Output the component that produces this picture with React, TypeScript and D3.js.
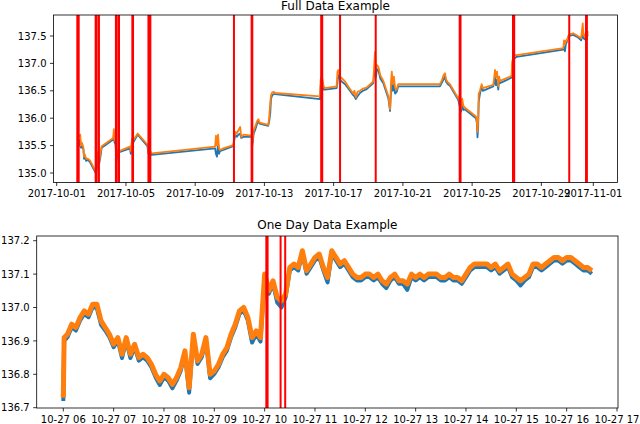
import React from "react";
import * as d3 from "d3";

// ---------- Full data (days since 2017-10-01 00:00 UTC) ----------
const fullDays = [
  1.29, 1.32, 1.36, 1.40, 1.46, 1.54, 1.58, 1.62, 1.70, 1.80, 1.92, 2.27, 2.30, 2.34, 2.38, 2.42, 2.46, 2.52, 2.60,
  3.27, 3.30, 3.34, 3.40, 3.45, 3.50, 3.56, 3.62, 4.23, 4.28, 4.35, 4.43, 4.68, 5.24, 5.30, 5.34, 5.40, 5.49,
  9.15, 9.20, 9.26, 9.32, 9.38, 9.43, 9.63, 10.20, 10.26, 10.32, 10.40, 10.50, 10.60, 10.66, 10.80,
  11.27, 11.30, 11.38, 11.46, 11.58, 11.65, 11.72, 12.22, 12.28, 12.34, 12.38, 12.45, 12.55, 12.61,
  15.21, 15.25, 15.30, 15.36, 15.42, 15.50, 16.17, 16.22, 16.27, 16.37, 16.50, 16.66, 16.90, 17.13, 17.20, 17.28,
  17.38, 17.52, 17.70, 17.91, 18.29, 18.33, 18.39, 18.44, 18.50, 18.58, 18.70, 18.87, 19.16, 19.26, 19.32, 19.36,
  19.42, 19.48, 19.55, 19.64, 19.73, 22.14, 22.24, 22.34, 22.43, 22.50, 22.60, 22.72, 23.20, 23.26, 23.30, 23.36,
  23.42, 23.50, 23.59, 24.22, 24.27, 24.31, 24.35, 24.38, 24.45, 24.55, 24.62, 25.22, 25.28, 25.32, 25.38, 25.44,
  25.51, 25.56, 25.61, 26.28, 26.31, 26.36, 26.42, 26.48, 26.57, 29.27, 29.31, 29.36, 29.42, 29.46, 29.56, 29.61,
  29.84, 30.10, 30.30, 30.35, 30.39, 30.43, 30.50, 30.58, 30.62, 30.67, 30.71,
];
const fullBid = [
  135.62, 135.50, 135.60, 135.46, 135.48, 135.44, 135.26, 135.30, 135.22, 135.24, 135.20, 134.99, 135.05, 135.22, 135.10, 135.20, 135.18, 135.28, 135.46,
  135.61, 135.70, 135.56, 135.52, 135.22, 135.36, 135.30, 135.38, 135.45, 135.35, 135.55, 135.56, 135.70, 135.49, 135.35, 135.45, 135.34, 135.33,
  135.45, 135.35, 135.30, 135.55, 135.35, 135.40, 135.42, 135.49, 135.60, 135.70, 135.66, 135.70, 135.72, 135.64, 135.66,
  135.66, 135.50, 135.72, 135.78, 135.90, 135.95, 135.90, 135.86, 135.95, 136.10, 136.35, 136.42, 136.44, 136.44,
  136.35, 136.60, 136.55, 136.65, 136.52, 136.52, 136.55, 136.65, 136.80, 136.70, 136.66, 136.62, 136.52, 136.42, 136.40, 136.35,
  136.40, 136.46, 136.50, 136.53, 136.64, 136.80, 136.85, 136.75, 136.90, 136.88, 136.72, 136.64, 136.36, 136.13, 136.55, 136.70,
  136.50, 136.65, 136.45, 136.48, 136.58, 136.58, 136.64, 136.70, 136.76, 136.66, 136.62, 136.59, 136.33, 136.25, 136.19, 136.12,
  136.24, 136.15, 136.16, 136.00, 135.92, 135.65, 135.85, 136.30, 136.44, 136.58, 136.50, 136.58, 136.65, 136.80, 136.60, 136.70,
  136.52, 136.70, 136.64, 136.74, 136.90, 137.02, 137.08, 137.10, 137.12, 137.25, 137.30, 137.22, 137.36, 137.38, 137.48, 137.50,
  137.52, 137.48, 137.42, 137.50, 137.55, 137.46, 137.44, 137.50, 137.44, 137.52, 137.53,
];
const fullAsk = [
  135.70, 135.66, 135.70, 135.50, 135.55, 135.47, 135.30, 135.34, 135.26, 135.26, 135.23, 135.02, 135.10, 135.38, 135.25, 135.26, 135.21, 135.35, 135.49,
  135.64, 135.80, 135.60, 135.60, 135.26, 135.42, 135.35, 135.40, 135.48, 135.40, 135.62, 135.60, 135.72, 135.52, 135.40, 135.55, 135.40, 135.36,
  135.48, 135.68, 135.50, 135.70, 135.45, 135.42, 135.45, 135.51, 135.65, 135.75, 135.72, 135.78, 135.84, 135.66, 135.70,
  135.68, 135.55, 135.78, 135.84, 135.95, 135.98, 135.92, 135.88, 136.03, 136.30, 136.42, 136.47, 136.48, 136.46,
  136.40, 136.70, 136.75, 136.70, 136.58, 136.55, 136.58, 136.85, 136.88, 136.76, 136.72, 136.67, 136.55, 136.45, 136.50, 136.38,
  136.48, 136.50, 136.54, 136.56, 136.67, 136.90, 137.21, 136.92, 136.97, 136.94, 136.78, 136.68, 136.40, 136.16, 136.70, 136.85,
  136.62, 136.76, 136.55, 136.52, 136.62, 136.62, 136.68, 136.78, 136.82, 136.70, 136.65, 136.62, 136.36, 136.40, 136.22, 136.18,
  136.36, 136.22, 136.19, 136.03, 135.97, 135.75, 135.98, 136.45, 136.50, 136.62, 136.55, 136.61, 136.75, 136.88, 136.75, 136.85,
  136.58, 136.76, 136.68, 136.77, 137.03, 137.08, 137.12, 137.15, 137.15, 137.28, 137.42, 137.35, 137.42, 137.41, 137.51, 137.53,
  137.55, 137.50, 137.46, 137.62, 137.73, 137.52, 137.48, 137.58, 137.46, 137.58, 137.56,
];
const fullAnomalyDays = [
  1.19, 1.27, 2.25, 2.31, 2.44, 3.42, 3.47, 3.60, 4.37, 4.41, 5.30, 5.36, 5.41, 10.24, 11.26, 11.30,
  15.28, 15.34, 16.37, 18.43, 23.28, 23.33, 26.36, 26.43, 29.61, 30.58, 30.63,
];
const fullTickLabels = [
  "2017-10-01", "2017-10-05", "2017-10-09", "2017-10-13", "2017-10-17",
  "2017-10-21", "2017-10-25", "2017-10-29", "2017-11-01",
];
const fullYTicks = [135.0, 135.5, 136.0, 136.5, 137.0, 137.5];

// ---------- One day data (2017-10-27, 06:00 onward, 5-min grid after 06:01) ----------
const dayMinutes = [0, 1, ...d3.range(5, 631, 5)];
const dayAsk = [
  136.73, 136.91,
  136.92, 136.95, 136.94, 136.97, 136.99, 136.98, 137.01, 137.01, 136.96, 136.94, 136.92,
  136.89, 136.91, 136.86, 136.91, 136.86, 136.89, 136.85, 136.86, 136.85, 136.83, 136.80, 136.78,
  136.80, 136.79, 136.77, 136.79, 136.82, 136.87, 136.76, 136.92, 136.84, 136.86, 136.91, 136.80,
  136.81, 136.83, 136.86, 136.88, 136.92, 136.95, 136.99, 137.00, 136.97, 136.91, 136.93, 136.91,
  137.10, 137.05, 137.08, 137.03, 137.02, 137.04, 137.12, 137.13, 137.12, 137.17, 137.11, 137.13,
  137.15, 137.16, 137.12, 137.09, 137.17, 137.15, 137.13, 137.14, 137.12, 137.10, 137.09, 137.09,
  137.10, 137.10, 137.09, 137.10, 137.08, 137.07, 137.09, 137.10, 137.08, 137.08, 137.07, 137.10,
  137.09, 137.10, 137.09, 137.10, 137.10, 137.10, 137.09, 137.09, 137.10, 137.09, 137.09, 137.08,
  137.10, 137.12, 137.13, 137.13, 137.13, 137.13, 137.12, 137.13, 137.11, 137.12, 137.13, 137.10,
  137.09, 137.08, 137.09, 137.10, 137.13, 137.13, 137.12, 137.13, 137.14, 137.15, 137.15, 137.14,
  137.15, 137.15, 137.14, 137.13, 137.12, 137.12, 137.11,
];
const dayBid = [
  136.72, 136.90,
  136.911, 136.941, 136.931, 136.961, 136.981, 136.971, 137.001, 136.998, 136.948, 136.931, 136.911,
  136.881, 136.901, 136.849, 136.901, 136.849, 136.881, 136.841, 136.851, 136.841, 136.821, 136.791, 136.768,
  136.791, 136.781, 136.758, 136.781, 136.811, 136.861, 136.745, 136.911, 136.831, 136.851, 136.901, 136.788,
  136.801, 136.821, 136.851, 136.871, 136.911, 136.941, 136.981, 136.991, 136.961, 136.895, 136.921, 136.898,
  137.085, 137.041, 137.071, 137.015, 137.0, 137.031, 137.111, 137.121, 137.111, 137.161, 137.101, 137.121,
  137.141, 137.151, 137.111, 137.075, 137.161, 137.141, 137.121, 137.131, 137.111, 137.091, 137.081, 137.081,
  137.091, 137.091, 137.081, 137.091, 137.071, 137.058, 137.081, 137.091, 137.071, 137.071, 137.053, 137.091,
  137.081, 137.091, 137.081, 137.091, 137.091, 137.091, 137.081, 137.081, 137.091, 137.081, 137.081, 137.071,
  137.091, 137.111, 137.121, 137.121, 137.121, 137.121, 137.111, 137.121, 137.101, 137.111, 137.121, 137.091,
  137.081, 137.066, 137.081, 137.091, 137.121, 137.121, 137.111, 137.121, 137.131, 137.141, 137.141, 137.131,
  137.141, 137.141, 137.131, 137.121, 137.111, 137.111, 137.101,
];
const dayAnomalyMinutes = [242, 243.5, 259, 264.5];
const dayTickHours = [6, 7, 8, 9, 10, 11, 12, 13, 14, 15, 16, 17];
const dayYTicks = [136.7, 136.8, 136.9, 137.0, 137.1, 137.2];

const BLUE = "#1f77b4";
const ORANGE = "#ff7f0e";
const RED = "#ff0000";
const FONT = "DejaVu Sans, sans-serif";

const oct1 = Date.UTC(2017, 9, 1);
const dayMs = 86400000;
const dayStart = Date.UTC(2017, 9, 27, 6);

type Box = { left: number; right: number; top: number; bottom: number };

function Frame({ box, title, titleY }: { box: Box; title: string; titleY: number }) {
  return (
    <g>
      <rect x={box.left} y={box.top} width={box.right - box.left} height={box.bottom - box.top}
        fill="none" stroke="#000" strokeWidth={0.8} />
      <text x={(box.left + box.right) / 2} y={titleY} textAnchor="middle" fontSize={12} fontFamily={FONT} fill="#000">
        {title}
      </text>
    </g>
  );
}

export default function App() {
  // ----- top chart -----
  const topBox: Box = { left: 53.5, right: 617.5, top: 15, bottom: 182.5 };
  const xTop = d3.scaleUtc().domain([new Date(oct1), new Date(Date.UTC(2017, 10, 1))]).range([56.7, 593.3]);
  const yTop = d3.scaleLinear().domain([135, 137.5]).range([173, 36]);
  const fullDates = fullDays.map((d) => new Date(oct1 + d * dayMs));
  const lineTop = d3.line<number>().x((_, i) => xTop(fullDates[i])).y((v) => yTop(v));

  // ----- bottom chart -----
  const botBox: Box = { left: 36.7, right: 618, top: 236, bottom: 408 };
  const xBot = d3.scaleUtc().domain([new Date(dayStart), new Date(dayStart + 11 * 3600000)]).range([63.3, 617]);
  const yBot = d3.scaleLinear().domain([136.7, 137.2]).range([407.7, 240.7]);
  const dayDates = dayMinutes.map((m) => new Date(dayStart + m * 60000));
  const lineBot = d3.line<number>().x((_, i) => xBot(dayDates[i])).y((v) => yBot(v));

  const parseTop = d3.utcParse("%Y-%m-%d");
  const fmtBot = d3.utcFormat("%m-%d %H");

  return (
    <svg width={640} height={424} style={{ position: "absolute", left: 0, top: 0, background: "#fff" }}
      fontFamily={FONT}>
      <rect x={0} y={0} width={640} height={424} fill="#fff" />

      {/* ===== Top: Full Data Example ===== */}
      <path d={lineTop(fullBid) || ""} fill="none" stroke={BLUE} strokeWidth={1.8} strokeLinejoin="round" />
      <path d={lineTop(fullAsk) || ""} fill="none" stroke={ORANGE} strokeWidth={1.8} strokeLinejoin="round" />
      {fullAnomalyDays.map((d, i) => {
        const x = xTop(new Date(oct1 + d * dayMs));
        return <line key={i} x1={x} x2={x} y1={topBox.top} y2={topBox.bottom} stroke={RED} strokeWidth={2} />;
      })}
      <Frame box={topBox} title="Full Data Example" titleY={10} />
      {fullTickLabels.map((lab) => {
        const x = xTop(parseTop(lab) as Date);
        return (
          <g key={lab}>
            <line x1={x} x2={x} y1={topBox.bottom} y2={topBox.bottom + 3.5} stroke="#000" strokeWidth={0.8} />
            <text x={x} y={197} textAnchor="middle" fontSize={10} fill="#000">{lab}</text>
          </g>
        );
      })}
      {fullYTicks.map((v) => {
        const y = yTop(v);
        return (
          <g key={v}>
            <line x1={topBox.left - 3.5} x2={topBox.left} y1={y} y2={y} stroke="#000" strokeWidth={0.8} />
            <text x={topBox.left - 7} y={y + 3.6} textAnchor="end" fontSize={10} fill="#000">{v.toFixed(1)}</text>
          </g>
        );
      })}

      {/* ===== Bottom: One Day Data Example ===== */}
      <path d={lineBot(dayBid) || ""} fill="none" stroke={BLUE} strokeWidth={4} strokeLinejoin="round" />
      <path d={lineBot(dayAsk) || ""} fill="none" stroke={ORANGE} strokeWidth={5} strokeLinejoin="round" />
      {dayAnomalyMinutes.map((m, i) => {
        const x = xBot(new Date(dayStart + m * 60000));
        return <line key={i} x1={x} x2={x} y1={botBox.top} y2={botBox.bottom} stroke={RED} strokeWidth={2} />;
      })}
      <Frame box={botBox} title="One Day Data Example" titleY={229} />
      {dayTickHours.map((h) => {
        const t = new Date(dayStart + (h - 6) * 3600000);
        const x = xBot(t);
        return (
          <g key={h}>
            <line x1={x} x2={x} y1={botBox.bottom} y2={botBox.bottom + 3.5} stroke="#000" strokeWidth={0.8} />
            <text x={x} y={423} textAnchor="middle" fontSize={10} fill="#000">{fmtBot(t)}</text>
          </g>
        );
      })}
      {dayYTicks.map((v) => {
        const y = yBot(v);
        return (
          <g key={v}>
            <line x1={botBox.left - 3.5} x2={botBox.left} y1={y} y2={y} stroke="#000" strokeWidth={0.8} />
            <text x={botBox.left - 7} y={y + 3.6} textAnchor="end" fontSize={10} fill="#000">{v.toFixed(1)}</text>
          </g>
        );
      })}
    </svg>
  );
}
